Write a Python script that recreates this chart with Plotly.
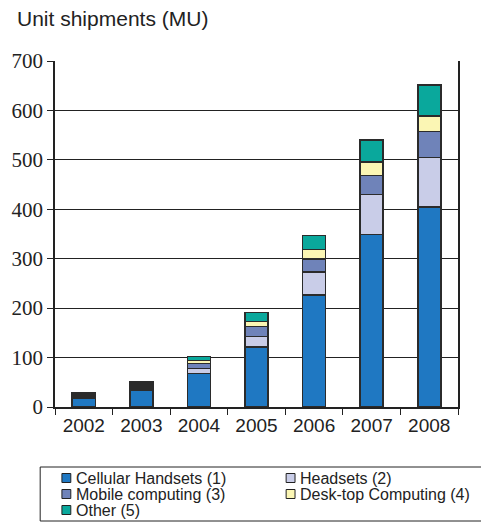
import plotly.graph_objects as go

# Unit shipments by application segment, millions of units
years = ["2002", "2003", "2004", "2005", "2006", "2007", "2008"]
cellular_handsets = [18, 34, 68, 122, 226, 349, 405]
headsets = [3, 5, 10, 21, 47, 81, 100]
mobile_computing = [3, 4, 10, 20, 27, 38, 52]
desktop_computing = [2, 3, 6, 10, 19, 28, 32]
other = [2, 5, 8, 18, 28, 44, 62]

series_names = [
    "Cellular Handsets (1)",
    "Headsets (2)",
    "Mobile computing (3)",
    "Desk-top Computing (4)",
    "Other (5)",
]
series_values = [cellular_handsets, headsets, mobile_computing,
                 desktop_computing, other]
series_colors = ["#1f78c2", "#c9cde8", "#6f83b9", "#fbf6b4", "#0aa89c"]

W, H = 481, 522
M_L, M_R, M_T, M_B = 50, 23, 61, 115
PW = W - M_L - M_R
PH = H - M_T - M_B


def px_x(px):
    return (px - M_L) / PW


def px_y(py):
    return (H - M_B - py) / PH


fig = go.Figure()
for name, vals, col in zip(series_names, series_values, series_colors):
    fig.add_trace(go.Bar(
        x=years, y=vals, name=name,
        marker=dict(color=col, line=dict(color="#2b2b2b", width=1.6)),
        showlegend=False,
    ))

# Legend box and entries, laid out in two columns
shapes = [dict(type="rect", xref="paper", yref="paper",
               x0=px_x(35), x1=px_x(500), y0=px_y(521), y1=px_y(467),
               line=dict(color="#222", width=1), fillcolor="white")]
annotations = []
legend_slots = [(57, 478), (284, 478), (57, 494), (284, 494), (57, 510)]
for (lx, ly), name, col in zip(legend_slots, series_names, series_colors):
    shapes.append(dict(type="rect", xref="paper", yref="paper",
                       x0=px_x(lx), x1=px_x(lx + 9),
                       y0=px_y(ly + 4.5), y1=px_y(ly - 4.5),
                       line=dict(color="#222", width=1), fillcolor=col))
    annotations.append(dict(xref="paper", yref="paper",
                            x=px_x(lx + 12), y=px_y(ly),
                            xanchor="left", yanchor="middle",
                            text=name, showarrow=False,
                            font=dict(family="Liberation Sans", size=16,
                                      color="#222")))

# Y-axis caption above the plot
annotations.append(dict(xref="paper", yref="paper",
                        x=px_x(10), y=px_y(18), xanchor="left",
                        yanchor="middle", text="Unit shipments (MU)",
                        showarrow=False,
                        font=dict(family="Liberation Sans", size=21,
                                  color="#222")))

fig.update_layout(
    width=W, height=H,
    margin=dict(l=M_L, r=M_R, t=M_T, b=M_B),
    paper_bgcolor="white", plot_bgcolor="white",
    barmode="stack", bargap=0.6,
    shapes=shapes, annotations=annotations,
    showlegend=False,
)
fig.update_xaxes(
    type="category", showline=True, linecolor="#222", linewidth=1.5,
    ticks="outside", tickson="boundaries", ticklen=6, tickcolor="#222",
    tickfont=dict(family="Liberation Sans", size=19, color="#222"),
    showgrid=False, mirror=False,
)
fig.update_yaxes(
    range=[0, 700], dtick=100, showline=True, linecolor="#222",
    linewidth=1.5, mirror=True, ticks="outside", ticklen=6,
    tickcolor="#222", showgrid=True, gridcolor="#222", gridwidth=1,
    zeroline=False,
    tickfont=dict(family="Liberation Serif", size=21, color="#222"),
)

fig.write_html("out.html")
